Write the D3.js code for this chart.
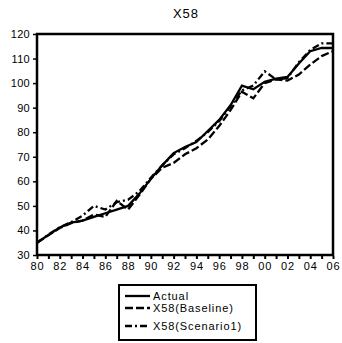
<!DOCTYPE html>
<html>
<head>
<meta charset="utf-8">
<script src="https://cdn.jsdelivr.net/npm/d3@7/dist/d3.min.js"></script>
<style>
  html, body { margin: 0; padding: 0; background: #fff; }
  svg { display: block; font-family: "Liberation Sans", Arial, sans-serif; }
</style>
</head>
<body>
<svg id="chart" width="342" height="343"></svg>
<script>
// Series: X58 actual history and two model solutions, 1980-2006
const years = d3.range(1980, 2007);
const actual = [35, 38.2, 41.2, 43.2, 44, 45.5, 47, 48.5, 50, 55,
                61, 66.5, 71.5, 74, 76, 80.5, 85, 91, 99, 97.5,
                100.5, 101.8, 102.5, 108, 113, 114.3, 114.3];
const baseline = [35, 38, 41, 43, 44, 46.5, 45.5, 52, 48.5, 54.5,
                  61, 65.5, 67.5, 71, 73.5, 77, 82.5, 89, 96.5, 93.8,
                  100, 101.5, 101, 103.5, 107.5, 111, 113];
const scenario1 = [35, 38.3, 41.3, 43.4, 46, 50, 48.5, 51.5, 52.5, 56,
                   61.5, 66.5, 71, 73.5, 76.5, 80, 84.5, 90.5, 97, 99,
                   104.8, 101.5, 102, 108.5, 113.5, 116.2, 116.2];
const yTicks = [30, 40, 50, 60, 70, 80, 90, 100, 110, 120];
const seriesNames = ["Actual", "X58(Baseline)", "X58(Scenario1)"];
const title = "X58";

const svg = d3.select("#chart");
const plotLeft = 37, plotRight = 333, plotTop = 34, plotBottom = 255;

const x = d3.scaleLinear().domain([1980, 2006]).range([plotLeft, plotRight]);
const y = d3.scaleLinear().domain([30, 120]).range([plotBottom, plotTop]);

// title
svg.append("text")
  .attr("x", (plotLeft + plotRight) / 2 + 1).attr("y", 18)
  .attr("text-anchor", "middle")
  .attr("font-size", 13).attr("letter-spacing", 1)
  .text(title);

// x axis: tick every year, label every other year
const xAxis = d3.axisBottom(x)
  .tickValues(years)
  .tickSize(3)
  .tickPadding(3)
  .tickFormat(d => d % 2 === 0 ? String(d).slice(2) : "");
const gx = svg.append("g").attr("transform", `translate(0,${plotBottom + 1})`).call(xAxis);
gx.select(".domain").remove();
gx.selectAll(".tick line").attr("stroke", "#000").attr("stroke-width", 2);
gx.selectAll(".tick text").attr("font-size", 11).attr("fill", "#000")
  .attr("font-family", "Liberation Sans, Arial, sans-serif").attr("letter-spacing", 0.8);

// y axis
const yAxis = d3.axisLeft(y).tickValues(yTicks).tickSize(3).tickPadding(3);
const gy = svg.append("g").attr("transform", `translate(${plotLeft - 1},0)`).call(yAxis);
gy.select(".domain").remove();
gy.selectAll(".tick line").attr("stroke", "#000").attr("stroke-width", 1.5);
gy.selectAll(".tick text").attr("font-size", 11).attr("fill", "#000")
  .attr("font-family", "Liberation Sans, Arial, sans-serif").attr("letter-spacing", 0.3);

// series lines
const styles = [
  { data: actual, dash: null },
  { data: baseline, dash: "8,3" },
  { data: scenario1, dash: "7,3,2,3" }
];
const line = d3.line().x((d, i) => x(years[i])).y(d => y(d));
styles.forEach(s => {
  svg.append("path")
    .attr("d", line(s.data))
    .attr("fill", "none")
    .attr("stroke", "#000")
    .attr("stroke-width", 2.3)
    .attr("stroke-linejoin", "miter")
    .attr("stroke-dasharray", s.dash);
});

// plot frame
svg.append("rect")
  .attr("x", plotLeft).attr("y", plotTop)
  .attr("width", plotRight - plotLeft).attr("height", plotBottom - plotTop)
  .attr("fill", "none").attr("stroke", "#000").attr("stroke-width", 2.5);

// legend
const lg = svg.append("g");
lg.append("rect")
  .attr("x", 119).attr("y", 285).attr("width", 137).attr("height", 55)
  .attr("fill", "#fff").attr("stroke", "#000").attr("stroke-width", 2);
const rowY = [296, 308, 326];
styles.forEach((s, i) => {
  lg.append("line")
    .attr("x1", 125).attr("x2", 150)
    .attr("y1", rowY[i]).attr("y2", rowY[i])
    .attr("stroke", "#000").attr("stroke-width", 2.3)
    .attr("stroke-dasharray", s.dash);
  lg.append("text")
    .attr("x", 153).attr("y", rowY[i] + 4)
    .attr("font-size", 11).attr("letter-spacing", 0.9)
    .text(seriesNames[i]);
});
</script>
</body>
</html>
